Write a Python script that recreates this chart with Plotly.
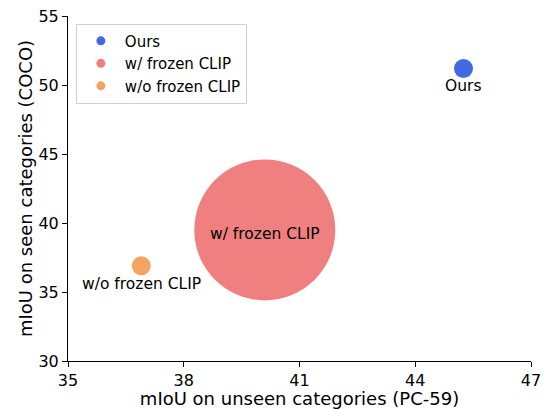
import plotly.graph_objects as go

methods = ["Ours", "w/ frozen CLIP", "w/o frozen CLIP"]
unseen_pc59 = [45.25, 40.1, 36.9]
seen_coco = [51.2, 39.5, 36.9]
marker_sizes = [19, 141, 19]
colors = ["royalblue", "lightcoral", "sandybrown"]
label_shifts = [(0, -18), (0, -4), (0, -18)]

x_ticks = [35, 38, 41, 44, 47]
y_ticks = [30, 35, 40, 45, 50, 55]

font = "DejaVu Sans"
fig = go.Figure()

for m, x, y, s, c in zip(methods, unseen_pc59, seen_coco, marker_sizes, colors):
    fig.add_trace(go.Scatter(x=[x], y=[y], mode="markers",
                             marker=dict(size=s, color=c, line=dict(width=0)),
                             showlegend=False, hoverinfo="skip"))
# legend entries
for m, c in zip(methods, colors):
    fig.add_trace(go.Scatter(x=[None], y=[None], mode="markers", name=m,
                             marker=dict(size=9, color=c)))

for m, x, y, (dx, dy) in zip(methods, unseen_pc59, seen_coco, label_shifts):
    fig.add_annotation(x=x, y=y, text=m, showarrow=False, xshift=dx, yshift=dy,
                       font=dict(family=font, size=15.5, color="black"))

axis_common = dict(showline=True, linecolor="black", linewidth=1, ticks="outside",
                   ticklen=5, tickcolor="black", showgrid=False, zeroline=False,
                   tickfont=dict(family=font, size=16, color="black"), mirror=False,
                   automargin=False)

fig.update_xaxes(range=[35, 47], tickvals=x_ticks,
                 title=dict(text="mIoU on unseen categories (PC-59)",
                            font=dict(family=font, size=18, color="black"), standoff=4),
                 **axis_common)
fig.update_yaxes(range=[30, 55], tickvals=y_ticks,
                 title=dict(text="mIoU on seen categories (COCO)",
                            font=dict(family=font, size=18, color="black"), standoff=1),
                 **axis_common)

fig.update_layout(
    width=544, height=409,
    margin=dict(l=68, r=13, t=16, b=48),
    plot_bgcolor="white", paper_bgcolor="white",
    legend=dict(x=0.017, y=0.978, xanchor="left", yanchor="top",
                bgcolor="white", bordercolor="#d0d0d0", borderwidth=1,
                font=dict(family=font, size=15, color="black"),
                itemwidth=38, tracegroupgap=0),
)

fig.write_html("out.html", config={"displayModeBar": False},
               post_script="document.body.style.margin='0';")
